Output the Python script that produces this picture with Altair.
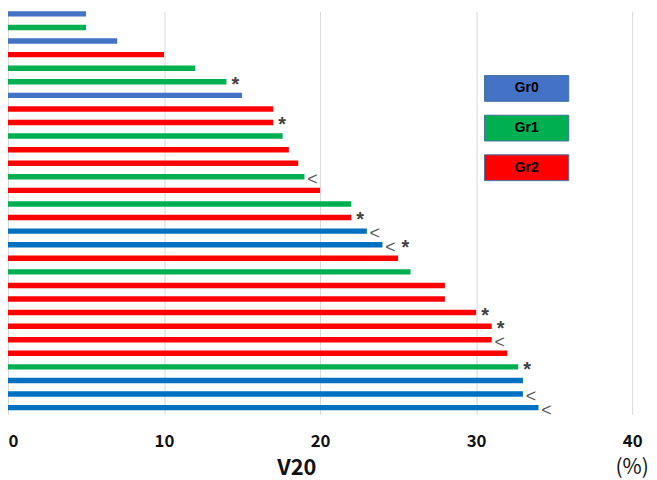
import altair as alt
import pandas as pd

# ---- data ----
values = [5, 5, 7, 10, 12, 14, 15, 17, 17, 17.6, 18, 18.6, 19, 20, 22, 22, 23, 24, 25, 25.8,
          28, 28, 30, 31, 31, 32, 32.7, 33, 33, 34]
groups = ["Gr0", "Gr1", "Gr0", "Gr2", "Gr1", "Gr1", "Gr0", "Gr2", "Gr2", "Gr1",
          "Gr2", "Gr2", "Gr1", "Gr2", "Gr1", "Gr2", "Gr0", "Gr0", "Gr2", "Gr1",
          "Gr2", "Gr2", "Gr2", "Gr2", "Gr2", "Gr2", "Gr1", "Gr0", "Gr0", "Gr0"]
# two shades of blue are used for Gr0 in the picture
shades = ["Gr0a", "Gr1", "Gr0a", "Gr2", "Gr1", "Gr1", "Gr0a", "Gr2", "Gr2", "Gr1",
          "Gr2", "Gr2", "Gr1", "Gr2", "Gr1", "Gr2", "Gr0b", "Gr0b", "Gr2", "Gr1",
          "Gr2", "Gr2", "Gr2", "Gr2", "Gr2", "Gr2", "Gr1", "Gr0b", "Gr0b", "Gr0b"]
notes = ["", "", "", "", "", "*", "", "", "*", "",
         "", "", "<", "", "", "*", "<", "<*", "", "",
         "", "", "*", "*", "<", "", "*", "", "<", "<"]
legend_labels = ["Gr0", "Gr1", "Gr2"]
x_ticks = [0, 10, 20, 30, 40]
x_title = "V20"
unit_label = "(%)"

# ---- styles ----
shade_colors = {"Gr0a": "#4472C4", "Gr0b": "#0070C0", "Gr1": "#00B050", "Gr2": "#FF0000"}
legend_colors = {"Gr0": "#4472C4", "Gr1": "#00B050", "Gr2": "#FF0000"}
FONT = "Noto Sans CJK JP"
W, H = 630, 407

df = pd.DataFrame({
    "idx": list(range(1, len(values) + 1)),
    "value": values,
    "group": groups,
    "col": [shade_colors[s] for s in shades],
})

ann_rows = []
for i, (v, n) in enumerate(zip(values, notes)):
    for slot, ch in enumerate(n):
        ann_rows.append({"idx": i + 1, "value": v, "sym": ch, "slot": slot + 1})
ann = pd.DataFrame(ann_rows)

leg = pd.DataFrame({
    "label": legend_labels,
    "col": [legend_colors[l] for l in legend_labels],
})
leg["top"] = [65 + 40 * i for i in range(len(leg))]
leg["bot"] = leg["top"] + 26
leg["mid"] = leg["top"] + 13

xscale = alt.Scale(domain=[0, 40], nice=False, zero=True)
yscale = alt.Scale(domain=[0.8, 30.5], reverse=True, nice=False, zero=False, padding=0)

xaxis = alt.Axis(
    values=x_ticks, grid=True, gridColor="#D9D9D9", gridWidth=1,
    domain=False, ticks=False,
    labelFont=FONT, labelFontSize=17, labelFontWeight="bold", labelColor="#111111",
    labelPadding=19,
    labelAlign={"condition": {"test": "datum.value === 0", "value": "left"}, "value": "center"},
    title=x_title, titleFont=FONT, titleFontSize=22, titleFontWeight="bold",
    titleColor="#111111", titleX=291, titleY=61, titleBaseline="alphabetic",
    titleAlign="center",
)

bars = alt.Chart(df).mark_bar(orient="horizontal", size=5.5).encode(
    x=alt.X("value:Q", scale=xscale, axis=xaxis),
    y=alt.Y("idx:Q", scale=yscale, axis=None),
    color=alt.Color("col:N", scale=None),
)

star1 = alt.Chart(ann).transform_filter("datum.sym === '*' && datum.slot === 1").mark_text(
    align="center", baseline="alphabetic", dx=9, dy=9, font="Liberation Sans",
    fontSize=20, fontWeight="bold", color="#404040",
).encode(x=alt.X("value:Q", scale=xscale), y=alt.Y("idx:Q", scale=yscale, axis=None), text="sym:N")

star2 = alt.Chart(ann).transform_filter("datum.sym === '*' && datum.slot === 2").mark_text(
    align="center", baseline="alphabetic", dx=23, dy=9, font="Liberation Sans",
    fontSize=20, fontWeight="bold", color="#404040",
).encode(x=alt.X("value:Q", scale=xscale), y=alt.Y("idx:Q", scale=yscale, axis=None), text="sym:N")

lt1 = alt.Chart(ann).transform_filter("datum.sym === '<'").mark_text(
    align="center", baseline="alphabetic", dx=8, dy=8, font="Liberation Sans",
    fontSize=18, color="#595959",
).encode(x=alt.X("value:Q", scale=xscale), y=alt.Y("idx:Q", scale=yscale, axis=None), text="sym:N")

leg_box = alt.Chart(leg).mark_rect(stroke="#41719C", strokeWidth=1).encode(
    x=alt.value(481), x2=alt.value(566),
    y=alt.Y("top:Q", scale=None, axis=None), y2="bot:Q",
    fill=alt.Fill("col:N", scale=None),
)
leg_txt = alt.Chart(leg).mark_text(
    align="center", baseline="middle", font="Liberation Sans", fontSize=14,
    fontWeight="bold", color="#000000",
).encode(
    x=alt.value(523.5),
    y=alt.Y("mid:Q", scale=None, axis=None),
    text="label:N",
)

unit = alt.Chart(pd.DataFrame({"t": [unit_label]})).mark_text(
    align="center", baseline="middle", font=FONT, fontSize=21, color="#111111",
).encode(x=alt.datum(40, scale=xscale), y=alt.value(H + 54), text="t:N")

chart = alt.layer(bars, star1, star2, lt1, leg_box, leg_txt, unit).resolve_scale(
    y="independent"
).properties(width=W, height=H, padding=0).configure_view(stroke=None)

chart.save("out.html", embed_options={"renderer": "svg", "actions": False})
